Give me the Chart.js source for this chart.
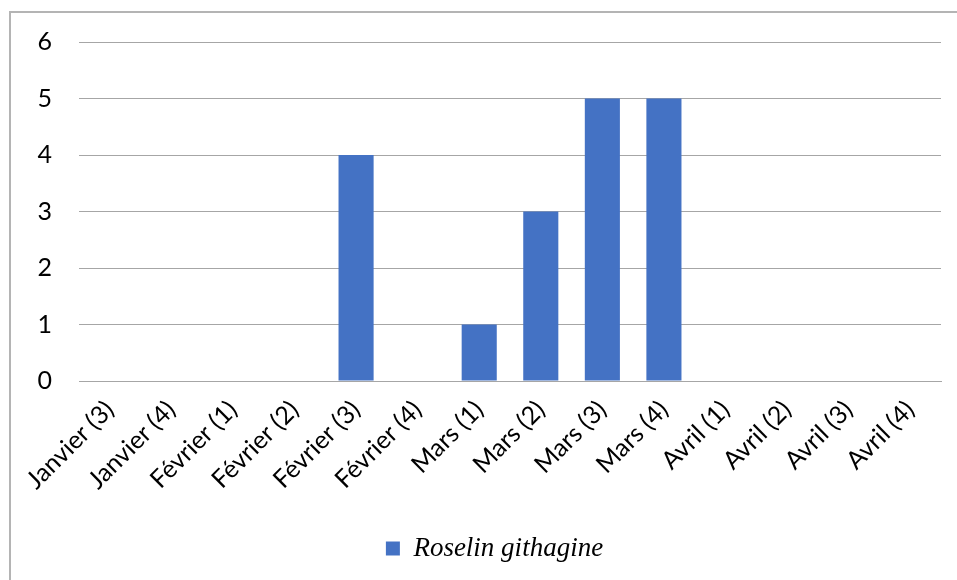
<!DOCTYPE html>
<html>
<head>
<meta charset="utf-8">
<script src="https://cdn.jsdelivr.net/npm/chart.js@4/dist/chart.umd.min.js"></script>
<style>
  html, body { margin: 0; padding: 0; background: #fff; overflow: hidden; }
  #frame { position: absolute; left: 9px; top: 11px; width: 1000px; height: 700px;
           border-left: 2px solid #b4b4b4; border-top: 2px solid #b4b4b4; }
  #wrap { position: absolute; left: 0; top: 0; width: 957px; height: 580px; }
</style>
</head>
<body>
<div id="frame"></div>
<div id="wrap"><canvas id="myChart" width="957" height="580"></canvas></div>
<script>
//------------------------------------------------------//
// data
let weekLabels = ["Janvier (3)", "Janvier (4)", "Février (1)", "Février (2)", "Février (3)", "Février (4)",
  "Mars (1)", "Mars (2)", "Mars (3)", "Mars (4)", "Avril (1)", "Avril (2)", "Avril (3)", "Avril (4)"]
let roselinCounts = [0, 0, 0, 0, 4, 0, 1, 3, 5, 5, 0, 0, 0, 0]
let seriesName = "Roselin githagine"
let yTicks = [0, 1, 2, 3, 4, 5, 6]

//------------------------------------------------------//
// the legend sits a bit right of the canvas centre in the original
const legendNudge = {
  id: 'legendNudge',
  afterLayout: (chart) => {
    chart.legend.left += 24
    chart.legend.right += 24
  }
}

const createCanvas = () => {
  var ctx = document.getElementById('myChart').getContext('2d');
  var chart = new Chart(ctx, {
    type: 'bar',
    data: {
      labels: weekLabels,
      datasets: [{
        label: seriesName,
        backgroundColor: '#4472C4',
        data: roselinCounts,
        categoryPercentage: 1,
        barPercentage: 0.57
      }]
    },
    options: {
      responsive: false,
      animation: false,
      layout: { padding: { left: 0, right: 16, top: 42, bottom: 8 } },
      plugins: {
        tooltip: { enabled: false },
        legend: {
          position: 'bottom',
          labels: {
            color: '#000',
            font: { family: 'Liberation Serif', style: 'italic', size: 27 },
            boxWidth: 14, boxHeight: 14, padding: 4
          }
        }
      },
      scales: {
        x: {
          grid: { display: false },
          border: { display: true, color: '#a6a6a6', width: 1 },
          ticks: {
            color: '#000', minRotation: 45, maxRotation: 45, padding: 6,
            font: { family: 'Lato', size: 25 }
          },
          afterFit: (s) => { s.height = 150 }
        },
        y: {
          min: 0, max: 6,
          afterBuildTicks: (s) => { s.ticks = yTicks.map(v => ({ value: v })) },
          grid: { color: '#a6a6a6', drawTicks: false },
          border: { display: false },
          ticks: {
            color: '#000', padding: 27,
            font: { family: 'Lato', size: 25 }
          },
          afterFit: (s) => { s.width = 79 }
        }
      }
    },
    plugins: [legendNudge]
  });
}

createCanvas()
</script>
</body>
</html>
